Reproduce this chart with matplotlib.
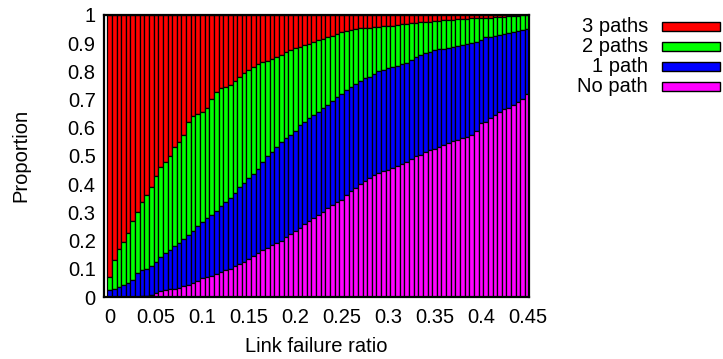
import numpy as np
import matplotlib
matplotlib.use('Agg')
import matplotlib.pyplot as plt
from matplotlib.patches import Rectangle

plt.rcParams['font.family'] = ['Liberation Sans', 'DejaVu Sans']

#link failure ratio, one bar every 0.005
ratio = np.round(np.arange(0, 0.4501, 0.005), 3)

#cumulative tops (no path, <=1 path, <=2 paths)
top_no = [0, 0, 0, 0, 0, 0, 0, 0.003, 0.005, 0.008,
          0.015, 0.02, 0.025, 0.027, 0.03, 0.033, 0.038, 0.043, 0.05, 0.058,
          0.066, 0.07, 0.075, 0.08, 0.088, 0.095, 0.10, 0.11, 0.118, 0.125,
          0.135, 0.145, 0.155, 0.165, 0.173, 0.183, 0.193, 0.20, 0.212, 0.225,
          0.235, 0.245, 0.258, 0.27, 0.28, 0.29, 0.303, 0.315, 0.325, 0.335,
          0.345, 0.36, 0.375, 0.388, 0.40, 0.41, 0.423, 0.433, 0.44, 0.445,
          0.45, 0.457, 0.465, 0.472, 0.48, 0.49, 0.498, 0.505, 0.515, 0.52,
          0.525, 0.53, 0.538, 0.545, 0.553, 0.558, 0.563, 0.568, 0.575, 0.59,
          0.615, 0.62, 0.635, 0.645, 0.655, 0.665, 0.67, 0.68, 0.69, 0.70,
          0.72]
top_one = [0.025, 0.03, 0.037, 0.043, 0.05, 0.06, 0.085, 0.095, 0.10, 0.11,
           0.125, 0.14, 0.155, 0.168, 0.18, 0.19, 0.205, 0.22, 0.235, 0.25,
           0.265, 0.28, 0.29, 0.305, 0.322, 0.335, 0.35, 0.37, 0.39, 0.405,
           0.42, 0.435, 0.455, 0.48, 0.50, 0.515, 0.53, 0.55, 0.564, 0.575,
           0.59, 0.61, 0.62, 0.635, 0.645, 0.655, 0.67, 0.68, 0.695, 0.71,
           0.72, 0.735, 0.745, 0.755, 0.765, 0.775, 0.78, 0.79, 0.80, 0.805,
           0.81, 0.816, 0.82, 0.825, 0.83, 0.84, 0.85, 0.858, 0.865, 0.87,
           0.876, 0.878, 0.88, 0.883, 0.886, 0.888, 0.892, 0.895, 0.90, 0.905,
           0.91, 0.92, 0.922, 0.925, 0.93, 0.932, 0.935, 0.94, 0.943, 0.947,
           0.95]
top_two = [0.072, 0.13, 0.17, 0.195, 0.226, 0.27, 0.30, 0.335, 0.36, 0.39,
           0.43, 0.46, 0.48, 0.50, 0.53, 0.55, 0.575, 0.62, 0.64, 0.65,
           0.656, 0.67, 0.70, 0.725, 0.74, 0.745, 0.75, 0.765, 0.78, 0.795,
           0.805, 0.816, 0.825, 0.833, 0.838, 0.843, 0.85, 0.858, 0.869, 0.876,
           0.882, 0.887, 0.893, 0.898, 0.904, 0.91, 0.915, 0.92, 0.926, 0.933,
           0.938, 0.942, 0.947, 0.95, 0.952, 0.954, 0.955, 0.957, 0.958, 0.96,
           0.96, 0.962, 0.965, 0.967, 0.968, 0.97, 0.972, 0.973, 0.974, 0.975,
           0.977, 0.978, 0.98, 0.982, 0.983, 0.984, 0.985, 0.986, 0.987, 0.988,
           0.989, 0.99, 0.99, 0.991, 0.992, 0.993, 0.995, 0.996, 0.997, 0.998,
           0.999]

labels = ['3 paths', '2 paths', '1 path', 'No path']
colors = ['#ff0000', '#00ff00', '#0000ff', '#ff00ff']

fig = plt.figure(figsize=(7.23, 3.59), dpi=100)
ax = fig.add_axes([0.1438, 0.1727, 0.5885, 0.786])

x = np.arange(len(ratio))
tops = np.array([np.ones(len(ratio)), top_two, top_one, top_no])
bottoms = np.vstack([tops[1:], np.zeros(len(ratio))])
for i in range(4):
    ax.bar(x, tops[i] - bottoms[i], bottom=bottoms[i], width=1.0,
           color=colors[i], edgecolor='black', linewidth=0.9)

ax.set_xlim(-1.2, 90.45)
ax.set_ylim(0, 1)
ax.set_xticks(x[::10])
ax.set_xticklabels(['%g' % r for r in ratio[::10]])
ax.set_yticks(np.arange(0, 1.01, 0.1))
ax.set_yticklabels(['%g' % round(v, 1) for v in np.arange(0, 1.01, 0.1)])
ax.tick_params(length=0, labelsize=14.5)
ax.tick_params(axis='x', pad=8)
ax.tick_params(axis='y', pad=6)
for s in ax.spines.values():
    s.set_linewidth(1.6)
ax.set_xlabel('Link failure ratio', fontsize=14.5, labelpad=7)
ax.set_ylabel('Proportion', fontsize=14.5, labelpad=27)

#legend drawn by hand, gnuplot style (text right, box after)
for i, lab in enumerate(labels):
    yc = 1 - (26 + 20 * i) / 359
    fig.text(648 / 723, yc, lab, ha='right', va='center', fontsize=14.5)
    fig.patches.append(Rectangle((662 / 723, yc - 4.5 / 359), 58 / 723, 9 / 359,
                                 transform=fig.transFigure, facecolor=colors[i],
                                 edgecolor='black', linewidth=1.0))

plt.savefig('out.png', dpi=100)
